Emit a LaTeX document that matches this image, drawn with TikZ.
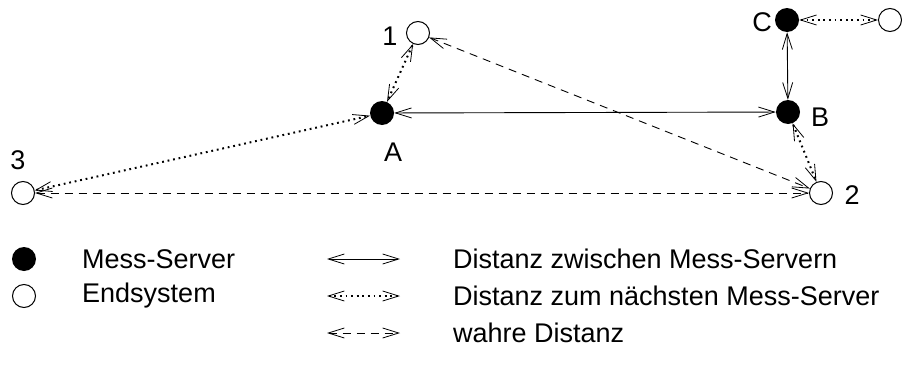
\documentclass[tikz,border=0pt]{standalone}
\usepackage{fontspec}
\setmainfont{Liberation Sans}
\usetikzlibrary{arrows.meta}
\begin{document}
\begin{tikzpicture}[x=1pt,y=-1pt,
  server/.style={circle,fill=black,minimum size=24pt,inner sep=0pt},
  endsys/.style={circle,draw=black,line width=1pt,fill=white,minimum size=23pt,inner sep=0pt},
  lbl/.style={font=\fontsize{27}{32}\selectfont,inner sep=0pt},
  tip/.style={{Straight Barb[length=16pt,width=10pt,line width=0.8pt]}-{Straight Barb[length=16pt,width=10pt,line width=0.8pt]}},
  servlink/.style={tip,line width=0.9pt},
  nearlink/.style={tip,line width=2pt,dash pattern=on 1.8pt off 3.8pt},
  truelink/.style={tip,line width=0.9pt,dash pattern=on 8pt off 6pt}]
\useasboundingbox (0,0) rectangle (902,380);
% measurement servers
\node[server] (A) at (382,113) {};
\node[server] (B) at (788,112) {};
\node[server] (C) at (787,20) {};
% end systems
\node[endsys] (e1) at (418,33) {};
\node[endsys] (e2) at (821,193) {};
\node[endsys] (e3) at (23,193) {};
\node[endsys] (e4) at (890,20) {};
% labels
\node[lbl] (lA) at (393,152) {A};
\node[lbl] (lB) at (820,117) {B};
\node[lbl] (lC) at (762,22) {C};
\node[lbl] (l1) at (390,36) {1};
\node[lbl] (l2) at (852,195) {2};
\node[lbl] (l3) at (18,160) {3};
% distances between measurement servers
\draw[servlink] (A) -- (B);
\draw[servlink] (C) -- (B);
% distances to nearest measurement server
\draw[nearlink] (C) -- (e4);
\draw[nearlink] (e1) -- (A);
\draw[nearlink] (e3) -- (A);
\draw[nearlink] (B) -- (e2);
% true distances
\draw[truelink] (e1) -- (e2);
\draw[truelink] (e3) -- (e2);
% legend
\node[server] (kS) at (24,259) {};
\node[endsys] (kE) at (24,296) {};
\node[lbl,anchor=west] (tS) at (82,259) {Mess-Server};
\node[lbl,anchor=west] (tE) at (82,296) {Endsystem};
\coordinate (a1) at (327,259); \coordinate (b1) at (400,259);
\coordinate (a2) at (327,296); \coordinate (b2) at (400,296);
\coordinate (a3) at (327,333); \coordinate (b3) at (400,333);
\draw[servlink] (a1) -- (b1);
\draw[nearlink] (a2) -- (b2);
\draw[truelink] (a3) -- (b3);
\node[lbl,anchor=west] (t1) at (453,259) {Distanz zwischen Mess-Servern};
\node[lbl,anchor=west] (t2) at (453,296) {Distanz zum nächsten Mess-Server};
\node[lbl,anchor=west] (t3) at (453,333) {wahre Distanz};
\end{tikzpicture}
\end{document}
